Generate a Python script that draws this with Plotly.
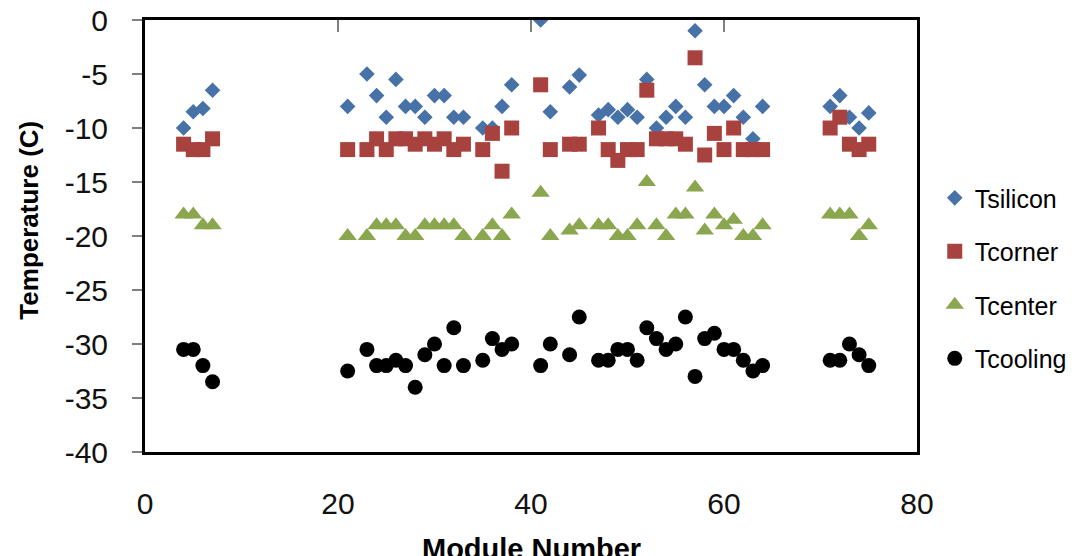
import plotly.graph_objects as go

modules = [4, 5, 6, 7, 21, 23, 24, 25, 26, 27, 28, 29, 30, 31, 32, 33, 35, 36, 37, 38,
           41, 42, 44, 45, 47, 48, 49, 50, 51, 52, 53, 54, 55, 56, 57, 58, 59, 60, 61,
           62, 63, 64, 71, 72, 73, 74, 75]

t_silicon = [-10, -8.5, -8.2, -6.5, -8, -5, -7, -9, -5.5, -8, -8, -9, -7, -7, -9, -9, -10, -10, -8, -6,
             0, -8.5, -6.2, -5.1, -8.8, -8.3, -9, -8.3, -9, -5.5, -10, -9, -8, -9, -1, -6, -8, -8, -7,
             -9, -11, -8, -8, -7, -9, -10, -8.6]

t_corner = [-11.5, -12, -12, -11, -12, -12, -11, -12, -11, -11, -11.5, -11, -11.5, -11, -12, -11.5, -12, -10.5, -14, -10,
            -6, -12, -11.5, -11.5, -10, -12, -13, -12, -12, -6.5, -11, -11, -11, -11.5, -3.5, -12.5, -10.5, -12, -10,
            -12, -12, -12, -10, -9, -11.5, -12, -11.5]

t_center = [-18, -18, -19, -19, -20, -20, -19, -19, -19, -20, -20, -19, -19, -19, -19, -20, -20, -19, -20, -18,
            -16, -20, -19.5, -19, -19, -19, -20, -20, -19, -15, -19, -20, -18, -18, -15.5, -19.5, -18, -19, -18.5,
            -20, -20, -19, -18, -18, -18, -20, -19]

t_cooling = [-30.5, -30.5, -32, -33.5, -32.5, -30.5, -32, -32, -31.5, -32, -34, -31, -30, -32, -28.5, -32, -31.5, -29.5, -30.5, -30,
             -32, -30, -31, -27.5, -31.5, -31.5, -30.5, -30.5, -31.5, -28.5, -29.5, -30.5, -30, -27.5, -33, -29.5, -29, -30.5, -30.5,
             -31.5, -32.5, -32, -31.5, -31.5, -30, -31, -32]

x_ticks = [0, 20, 40, 60, 80]
y_ticks = [0, -5, -10, -15, -20, -25, -30, -35, -40]

series = [
    ("Tsilicon", t_silicon, "diamond", "#4672A8", 12, "x"),
    ("Tcorner", t_corner, "square", "#A8423F", 15, "x"),
    ("Tcenter", t_center, "triangle-up", "#8AA64E", 16, "x"),
    ("Tcooling", t_cooling, "circle", "#000000", 15, "x2"),
]

fig = go.Figure()
for name, vals, sym, col, size, xa in series:
    fig.add_trace(go.Scatter(
        x=modules, y=vals, mode="markers", name=name, xaxis=xa, legendgroup=name,
        marker=dict(symbol=sym, color=col, size=size, line=dict(width=0)),
    ))

font_family = "Liberation Sans"

fig.update_layout(
    width=1081, height=556,
    margin=dict(l=137, r=172, t=12, b=112, autoexpand=False),
    paper_bgcolor="white", plot_bgcolor="white",
    font=dict(family=font_family, color="#000000"),
    showlegend=True,
    legend=dict(x=1.023, y=0.641, xanchor="left", yanchor="top",
                font=dict(size=25, family=font_family, color="#000000"),
                tracegroupgap=18, bgcolor="rgba(0,0,0,0)", itemsizing="trace"),
    xaxis=dict(range=[0, 80], tickvals=x_ticks, ticktext=[str(v) for v in x_ticks],
               showgrid=False, zeroline=False, ticks="", showline=True, mirror=True,
               linecolor="#000000", linewidth=3, ticklabelstandoff=23,
               ticklabeloverflow="allow",
               tickfont=dict(size=30, family=font_family, color="#111111")),
    xaxis2=dict(range=[0, 80], tickvals=x_ticks, overlaying="x", side="top", anchor="y",
                showgrid=False, zeroline=False, ticks="inside", ticklen=12, tickwidth=2,
                tickcolor="#808080", showticklabels=False, showline=False),
    yaxis=dict(range=[-40, 0], tickvals=y_ticks, ticktext=[str(v) for v in y_ticks],
               showgrid=False, zeroline=False, ticks="outside", ticklen=10, tickwidth=2,
               tickcolor="#808080", showline=True, mirror=True, linecolor="#000000",
               linewidth=3, ticklabelstandoff=18, ticklabeloverflow="allow",
               tickfont=dict(size=30, family=font_family, color="#111111")),
    annotations=[
        dict(text="<b>Temperature (C)</b>", xref="paper", yref="paper", x=-0.150, y=0.536,
             textangle=-90, showarrow=False, xanchor="center", yanchor="middle",
             font=dict(size=26, family=font_family, color="#000000")),
        dict(text="<b>Module Number</b>", xref="paper", yref="paper", x=0.5, y=-0.184,
             showarrow=False, xanchor="center", yanchor="top",
             font=dict(size=29, family=font_family, color="#000000")),
    ],
)

fig.write_html("out.html")
